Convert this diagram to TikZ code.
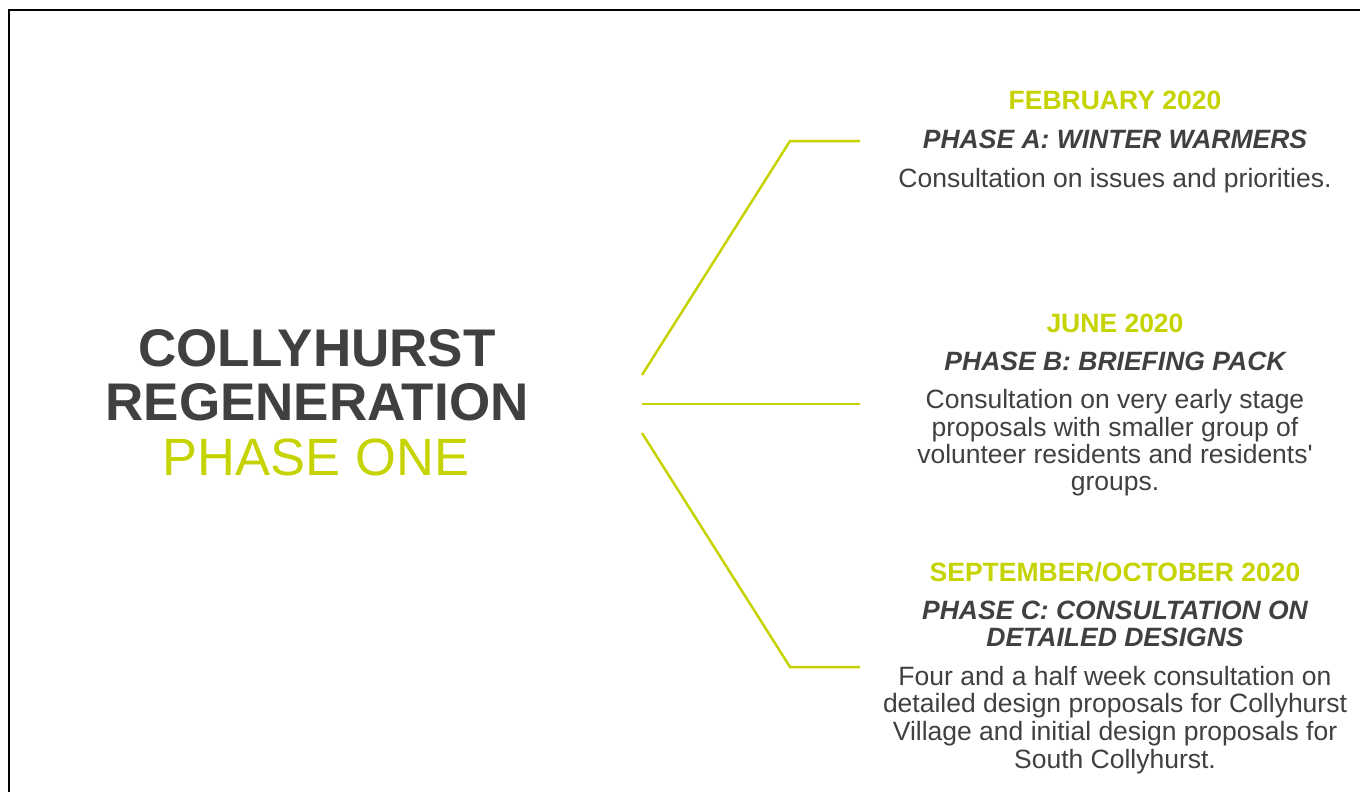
\documentclass[tikz,border=0pt]{standalone}
\usepackage{fontspec}
\setmainfont{Liberation Sans}[Ligatures=TeXOff]
\definecolor{lime}{RGB}{197,211,0}
\definecolor{ink}{RGB}{64,64,64}
\tikzset{
  bigbold/.style={font=\fontsize{53}{55}\selectfont\bfseries, text=ink, anchor=base, inner sep=0pt},
  bigthin/.style={font=\fontsize{52.5}{55}\selectfont, text=lime, anchor=base, inner sep=0pt},
  datetxt/.style={font=\fontsize{26.5}{28}\selectfont\bfseries, text=lime, anchor=base, inner sep=0pt},
  phasetxt/.style={font=\fontsize{26.5}{28}\selectfont\bfseries\itshape, text=ink, anchor=base, inner sep=0pt},
  bodytxt/.style={font=\fontsize{26.5}{28}\selectfont, text=ink, anchor=base, inner sep=0pt},
  branch/.style={draw=lime, line width=2.5pt},
  frameline/.style={draw=black, line width=2pt}
}
\begin{document}
\begin{tikzpicture}[x=1pt,y=-1pt]
\useasboundingbox (0,0) rectangle (1360,792);
% frame
\draw[frameline] (1365,10) -- (9,10) -- (9,797);
% title
\node[bigbold] (t1) at (317,366) {COLLYHURST};
\node[bigbold] (t2) at (317,420) {REGENERATION};
\node[bigthin] (t3) at (316,475) {PHASE ONE};
% branch points
\coordinate (sA) at (642,375);
\coordinate (cA) at (790,141);
\coordinate (eA) at (860,141);
\coordinate (sB) at (642,404);
\coordinate (eB) at (860,404);
\coordinate (sC) at (642,433);
\coordinate (cC) at (790,667);
\coordinate (eC) at (860,667);
\draw[branch] (sA) -- (cA) -- (eA);
\draw[branch] (sB) -- (eB);
\draw[branch] (sC) -- (cC) -- (eC);
% Phase A
\node[datetxt] (dA) at (1115,109) {FEBRUARY 2020};
\node[phasetxt] (pA) at (1115,148) {PHASE A: WINTER WARMERS};
\node[bodytxt] (bA) at (1115,187) {Consultation on issues and priorities.};
% Phase B
\node[datetxt] (dB) at (1115,332) {JUNE 2020};
\node[phasetxt] (pB) at (1115,370) {PHASE B: BRIEFING PACK};
\node[bodytxt] (bB1) at (1115,408.5) {Consultation on very early stage};
\node[bodytxt] (bB2) at (1115,436.5) {proposals with smaller group of};
\node[bodytxt] (bB3) at (1115,463.5) {volunteer residents and residents'};
\node[bodytxt] (bB4) at (1115,490.5) {groups.};
% Phase C
\node[datetxt] (dC) at (1115,581) {SEPTEMBER/OCTOBER 2020};
\node[phasetxt] (pC1) at (1115,619) {PHASE C: CONSULTATION ON};
\node[phasetxt] (pC2) at (1115,646.5) {DETAILED DESIGNS};
\node[bodytxt] (bC1) at (1115,685) {Four and a half week consultation on};
\node[bodytxt] (bC2) at (1115,712) {detailed design proposals for Collyhurst};
\node[bodytxt] (bC3) at (1115,740) {Village and initial design proposals for};
\node[bodytxt] (bC4) at (1115,768) {South Collyhurst.};
\end{tikzpicture}
\end{document}
